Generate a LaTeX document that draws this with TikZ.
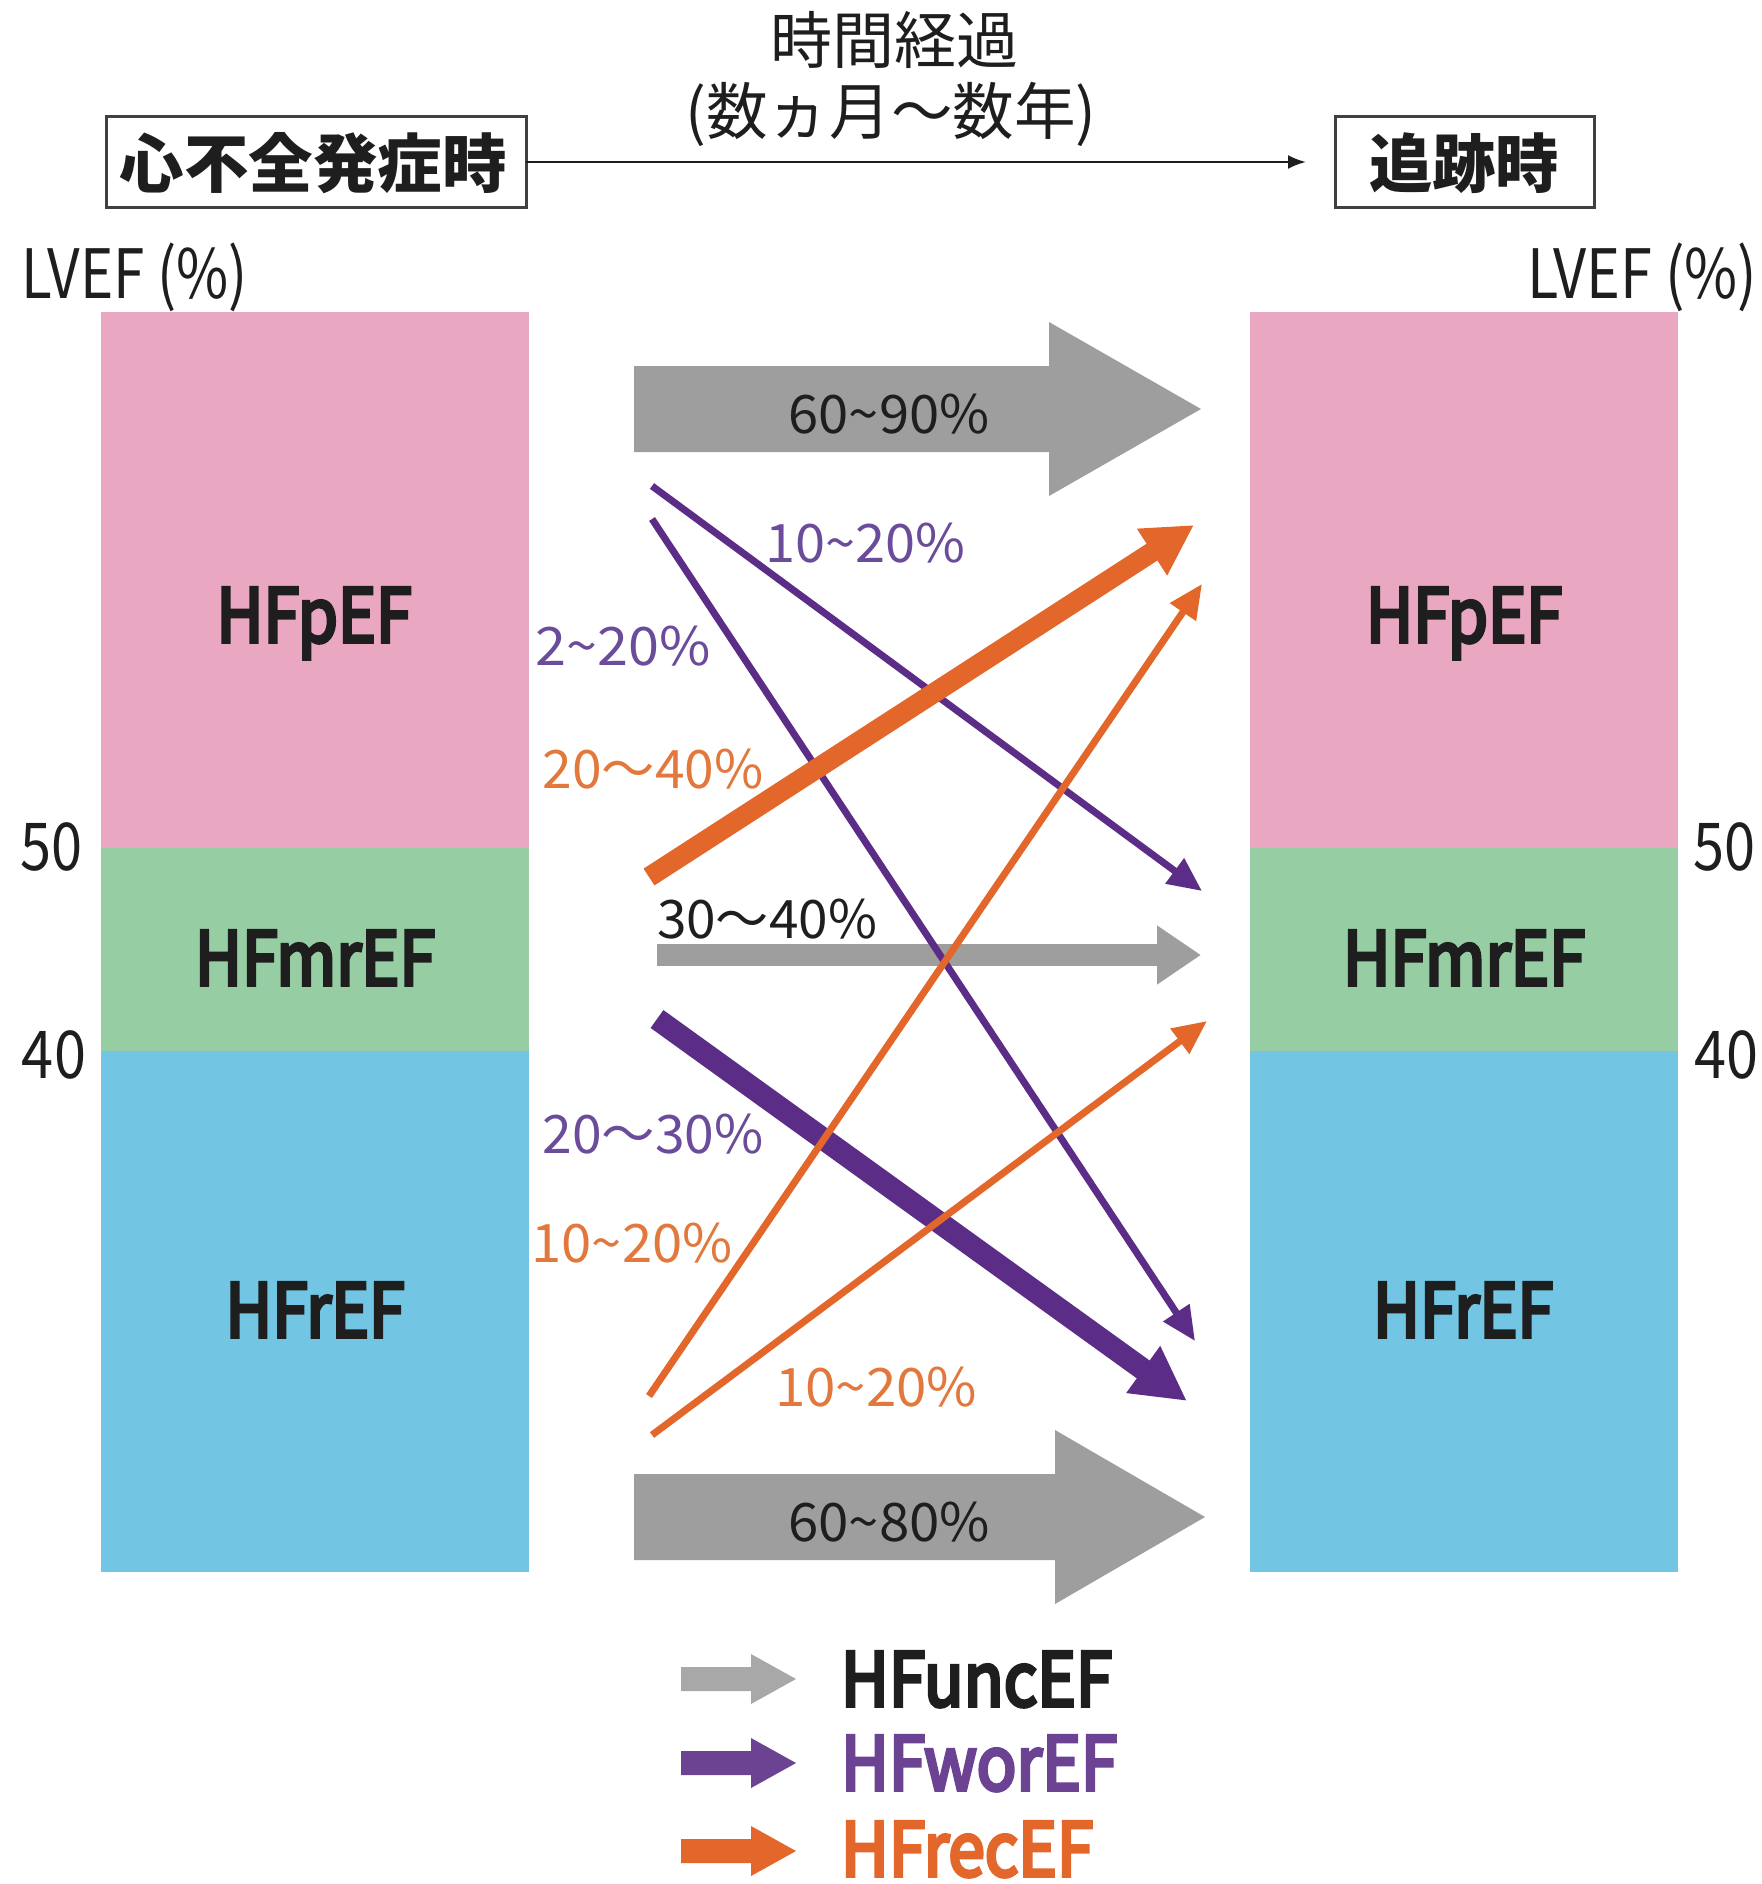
\documentclass[tikz,border=0pt]{standalone}
\usepackage{graphicx}
\usepackage{fontspec}
\setmainfont{Noto Sans CJK JP}
\newfontfamily\semib{Noto Sans CJK JP}[FakeBold=5]
\usetikzlibrary{arrows.meta}
\definecolor{pinkc}{HTML}{EAA7C2}
\definecolor{greenc}{HTML}{96CDA3}
\definecolor{bluec}{HTML}{72C6E4}
\definecolor{grayc}{HTML}{9E9E9E}
\definecolor{graylg}{HTML}{A8A8A8}
\definecolor{purc}{HTML}{5C2D87}
\definecolor{purtx}{HTML}{6A4C9B}
\definecolor{orc}{HTML}{E3672A}
\definecolor{ortx}{HTML}{E2783B}
\definecolor{inkc}{HTML}{1E1E1E}
\newcommand{\fitt}[3]{\resizebox{#2}{\height}{\fontsize{#1}{#1}\selectfont #3}}
\newcommand{\tild}{\char"7E\relax}
\tikzset{
  every node/.style={inner sep=0pt, outer sep=0pt, text=inkc},
  hbox/.style={draw=inkc!85, line width=1.5pt, fill=white},
  thinpur/.style={draw=purc, line width=3.5pt, -{Triangle[length=17pt,width=15pt]}},
  thickpur/.style={draw=purc, line width=11pt, -{Triangle[length=27pt,width=27pt]}},
  thinor/.style={draw=orc, line width=3.5pt, -{Triangle[length=17pt,width=15pt]}},
  thickor/.style={draw=orc, line width=10pt, -{Triangle[length=25pt,width=26pt]}},
  grayline/.style={draw=grayc, line width=11pt, -{Triangle[length=22pt,width=28pt]}},
  pct/.style={anchor=base},
}
\begin{document}
\begin{tikzpicture}[x=0.5pt,y=-0.5pt]
\useasboundingbox[fill=white] (0,0) rectangle (1761,1884);

% bars
\fill[pinkc] (101,312) rectangle (529,848);
\fill[greenc] (101,848) rectangle (529,1051);
\fill[bluec] (101,1051) rectangle (529,1572);
\fill[pinkc] (1250,312) rectangle (1678,848);
\fill[greenc] (1250,848) rectangle (1678,1051);
\fill[bluec] (1250,1051) rectangle (1678,1572);

% bar labels
\node[anchor=base] (lp) at (314,642) {\fitt{37pt}{97.5pt}{\semib HFpEF}};
\node[anchor=base] (lm) at (315,985) {\fitt{37pt}{120pt}{\semib HFmrEF}};
\node[anchor=base] (lr) at (315,1337) {\fitt{37pt}{89.5pt}{\semib HFrEF}};
\node[anchor=base] (rp) at (1464,642) {\fitt{37pt}{98pt}{\semib HFpEF}};
\node[anchor=base] (rm) at (1464,985) {\fitt{37pt}{121pt}{\semib HFmrEF}};
\node[anchor=base] (rr) at (1463,1337) {\fitt{37pt}{90pt}{\semib HFrEF}};

% axis labels
\node[anchor=base] (lv1) at (135,298) {\fitt{34pt}{113pt}{LVEF (\%)}};
\node[anchor=base] (lv2) at (1642,298) {\fitt{34pt}{115pt}{LVEF (\%)}};
\node[anchor=base] (l50) at (51,870) {\fitt{33pt}{31pt}{50}};
\node[anchor=base] (l40) at (54,1078) {\fitt{33pt}{32pt}{40}};
\node[anchor=base] (r50) at (1724,870) {\fitt{33pt}{31pt}{50}};
\node[anchor=base] (r40) at (1726,1078) {\fitt{33pt}{32pt}{40}};

% header
\node (t1) at (894,40) {\fontsize{31pt}{31pt}\selectfont 時間経過};
\node (t2) at (891,114) {\fitt{31pt}{205.5pt}{(数ヵ月〜数年)}};
\node[hbox, minimum width=210pt, minimum height=45pt] (b1) at (316,162) {};
\node (b1t) at (313,163) {\fitt{32pt}{193.5pt}{\bfseries 心不全発症時}};
\node[hbox, minimum width=129.5pt, minimum height=45pt] (b2) at (1464.5,162) {};
\node (b2t) at (1464,163) {\fitt{32pt}{95pt}{\bfseries 追跡時}};
\draw[draw=inkc, line width=1.2pt, -{Latex[length=9pt,width=7pt]}, shorten >=14.5pt] (b1.east) -- (b2.west);

% big gray arrows
\fill[grayc] (634,366) -- (1049,366) -- (1049,322) -- (1201,409) -- (1049,496) -- (1049,452) -- (634,452) -- cycle;
\fill[grayc] (634,1474) -- (1055,1474) -- (1055,1430) -- (1205,1517) -- (1055,1604) -- (1055,1560) -- (634,1560) -- cycle;
\node[pct] (g1) at (889,433) {\fitt{26.5pt}{100.5pt}{60\tild 90\%}};
\node[pct] (g2) at (889,1541) {\fitt{26.5pt}{101pt}{60\tild 80\%}};

% endpoints
\coordinate (gs) at (657,955);  \coordinate (ge) at (1201,955);
\coordinate (p1s) at (652,486); \coordinate (p1e) at (1202,891);
\coordinate (p2s) at (652,519); \coordinate (p2e) at (1195,1341);
\coordinate (p3s) at (657,1019); \coordinate (p3e) at (1187,1401);
\coordinate (o1s) at (649,877); \coordinate (o1e) at (1194,525);
\coordinate (o2s) at (649,1396); \coordinate (o2e) at (1202,584);
\coordinate (o3s) at (652,1435); \coordinate (o3e) at (1207,1021);

\draw[grayline] (gs) -- (ge);
\draw[thinpur] (p1s) -- (p1e);
\draw[thinpur] (p2s) -- (p2e);
\draw[thickpur] (p3s) -- (p3e);
\draw[thickor] (o1s) -- (o1e);
\draw[thinor] (o2s) -- (o2e);
\draw[thinor] (o3s) -- (o3e);

% percent labels
\node[pct, text=purtx] (q1) at (865,562) {\fitt{26.5pt}{100pt}{10\tild 20\%}};
\node[pct, text=purtx] (q2) at (623,665) {\fitt{26.5pt}{87.5pt}{2\tild 20\%}};
\node[pct, text=ortx] (q3) at (653,788) {\fitt{26.5pt}{110.5pt}{20〜40\%}};
\node[pct] (q4) at (767,938) {\fitt{26.5pt}{110pt}{30〜40\%}};
\node[pct, text=purtx] (q5) at (653,1153) {\fitt{26.5pt}{110.5pt}{20〜30\%}};
\node[pct, text=ortx] (q6) at (632,1262) {\fitt{26.5pt}{100.5pt}{10\tild 20\%}};
\node[pct, text=ortx] (q7) at (876,1406) {\fitt{26.5pt}{101pt}{10\tild 20\%}};

% legend
\fill[graylg] (681,1667) -- (751,1667) -- (751,1654) -- (796,1679) -- (751,1704) -- (751,1691) -- (681,1691) -- cycle;
\fill[purc!90] (681,1751) -- (751,1751) -- (751,1738) -- (796,1763) -- (751,1788) -- (751,1775) -- (681,1775) -- cycle;
\fill[orc] (681,1839) -- (751,1839) -- (751,1826) -- (796,1851) -- (751,1876) -- (751,1863) -- (681,1863) -- cycle;
\node[anchor=base west] (k1) at (841,1706) {\fitt{37pt}{135.5pt}{\semib HFuncEF}};
\node[anchor=base west, text=purc!90] (k2) at (841,1790) {\fitt{37pt}{138pt}{\semib HFworEF}};
\node[anchor=base west, text=orc] (k3) at (841,1876) {\fitt{37pt}{126pt}{\semib HFrecEF}};
\end{tikzpicture}
\end{document}
